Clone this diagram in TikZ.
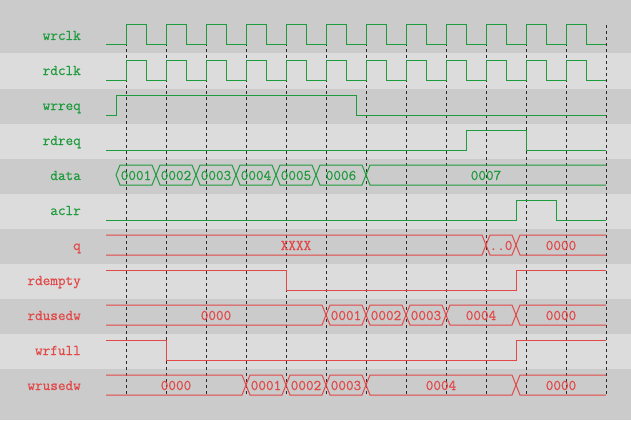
\documentclass[tikz,border=0pt]{standalone}
\usepackage{fontspec}
\newfontfamily\sigfont[FakeBold=0.6]{Latin Modern Mono}
\definecolor{ingreen}{HTML}{1E9B3C}
\definecolor{outred}{HTML}{E24848}
\definecolor{bgdark}{HTML}{CBCBCB}
\definecolor{bglight}{HTML}{DCDCDC}
\definecolor{gridc}{HTML}{2A2A2A}
% bus segment: pointed both ends  {x1}{x2}{yc}{text}{name}
\newcommand\SegPP[5]{%
  \draw (#1,#3-1) -- (#1+4,#3-11) -- (#2-4,#3-11) -- (#2,#3-1) -- (#2-4,#3+9) -- (#1+4,#3+9) -- cycle;
  \node[bustext] (#5) at ({(#1+#2)/2},#3+4) {#4};}
% flat left, pointed right
\newcommand\SegFP[5]{%
  \draw (#1,#3-11) -- (#2-4,#3-11) -- (#2,#3-1) -- (#2-4,#3+9) -- (#1,#3+9);
  \node[bustext] (#5) at ({(#1+#2)/2},#3+4) {#4};}
% pointed left, flat right
\newcommand\SegPF[5]{%
  \draw (#2,#3-11) -- (#1+4,#3-11) -- (#1,#3-1) -- (#1+4,#3+9) -- (#2,#3+9);
  \node[bustext] (#5) at ({(#1+#2)/2},#3+4) {#4};}
\begin{document}
\begin{tikzpicture}[x=1pt,y=-1pt,
  lbl/.style={anchor=base east, inner sep=0pt, font=\sigfont\fontsize{14.8}{14.8}\selectfont},
  bustext/.style={anchor=base, inner sep=0pt, font=\sigfont\fontsize{14.8}{14.8}\selectfont},
  insig/.style={draw=ingreen, text=ingreen, line width=1pt},
  outsig/.style={draw=outred, text=outred, line width=1pt},
  gridline/.style={draw=gridc, line width=0.9pt, dash pattern=on 3pt off 3pt}]
\useasboundingbox (0,0) rectangle (631,420);
\fill[bgdark] (0,0) rectangle (631,420);
\foreach \yc in {71,141,211,281,351}
  \fill[bglight] (0,\yc-17.5) rectangle (631,\yc+17.5);
% grid
\foreach \k in {0,...,12}
  \draw[gridline] (126+40*\k,25) -- (126+40*\k,395);
% labels
\begin{scope}[every node/.style={lbl}]
\node[text=ingreen] (Lwrclk) at (81,40) {wrclk};
\node[text=ingreen] (Lrdclk) at (81,75) {rdclk};
\node[text=ingreen] (Lwrreq) at (81,110) {wrreq};
\node[text=ingreen] (Lrdreq) at (81,145) {rdreq};
\node[text=ingreen] (Ldata) at (81,180) {data};
\node[text=ingreen] (Laclr) at (81,215) {aclr};
\node[text=outred] (Lq) at (81,250) {q};
\node[text=outred] (Lrdempty) at (81,285) {rdempty};
\node[text=outred] (Lrdusedw) at (81,320) {rdusedw};
\node[text=outred] (Lwrfull) at (81,355) {wrfull};
\node[text=outred] (Lwrusedw) at (81,390) {wrusedw};
\end{scope}
% inputs
\begin{scope}[insig]
\draw (106,45) -- (126,45) \foreach \k in {1,...,12} { -- ++(0,-20) -- ++(20,0) -- ++(0,20) -- ++(20,0) };
\draw (106,80) -- (126,80) \foreach \k in {1,...,12} { -- ++(0,-20) -- ++(20,0) -- ++(0,20) -- ++(20,0) };
\draw (106,115) -- (116,115) -- (116,95) -- (356,95) -- (356,115) -- (606,115);
\draw (106,150) -- (466,150) -- (466,130) -- (526,130) -- (526,150) -- (606,150);
\SegPP{116}{156}{176}{0001}{d1}
\SegPP{156}{196}{176}{0002}{d2}
\SegPP{196}{236}{176}{0003}{d3}
\SegPP{236}{276}{176}{0004}{d4}
\SegPP{276}{316}{176}{0005}{d5}
\SegPP{316}{366}{176}{0006}{d6}
\SegPF{366}{606}{176}{0007}{d7}
\draw (106,220) -- (516,220) -- (516,200) -- (556,200) -- (556,220) -- (606,220);
\end{scope}
% outputs
\begin{scope}[outsig]
\SegFP{106}{486}{246}{XXXX}{q1}
\SegPP{486}{516}{246}{..0}{q2}
\SegPF{516}{606}{246}{0000}{q3}
\draw (106,270) -- (286,270) -- (286,290) -- (516,290) -- (516,270) -- (606,270);
\SegFP{106}{326}{316}{0000}{r0}
\SegPP{326}{366}{316}{0001}{r1}
\SegPP{366}{406}{316}{0002}{r2}
\SegPP{406}{446}{316}{0003}{r3}
\SegPP{446}{516}{316}{0004}{r4}
\SegPF{516}{606}{316}{0000}{r5}
\draw (106,340) -- (166,340) -- (166,360) -- (516,360) -- (516,340) -- (606,340);
\SegFP{106}{246}{386}{0000}{w0}
\SegPP{246}{286}{386}{0001}{w1}
\SegPP{286}{326}{386}{0002}{w2}
\SegPP{326}{366}{386}{0003}{w3}
\SegPP{366}{516}{386}{0004}{w4}
\SegPF{516}{606}{386}{0000}{w5}
\end{scope}
\end{tikzpicture}
\end{document}
